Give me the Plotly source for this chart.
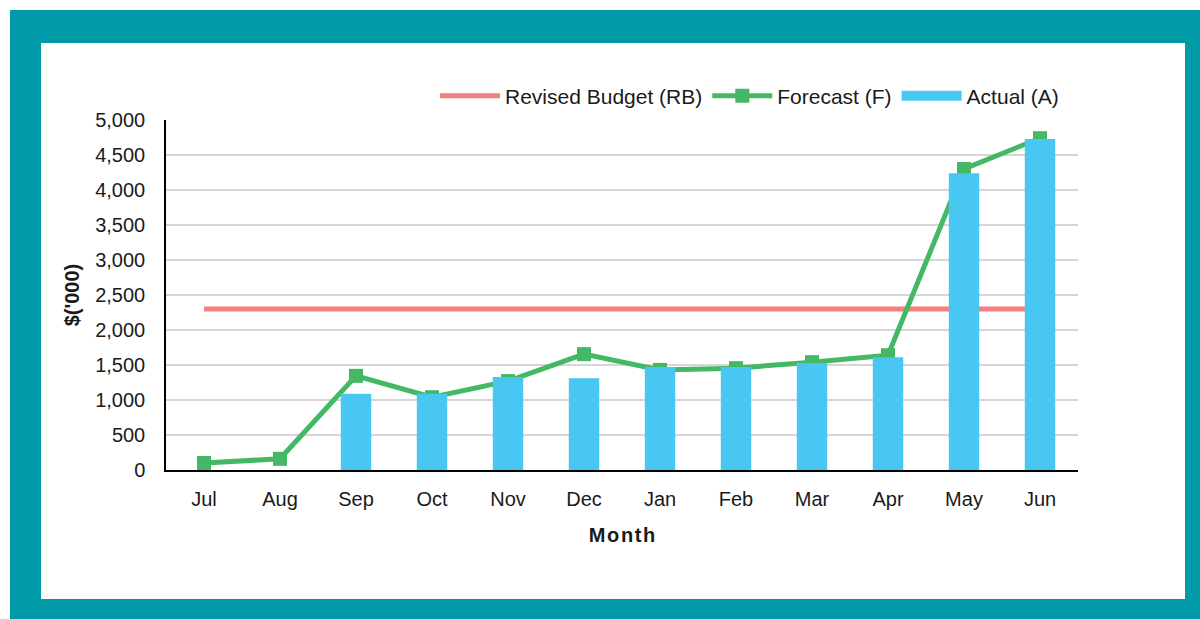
import plotly.graph_objects as go

months = ["Jul", "Aug", "Sep", "Oct", "Nov", "Dec", "Jan", "Feb", "Mar", "Apr", "May", "Jun"]
revised_budget = [2300] * 12
forecast = [100, 160, 1345, 1040, 1270, 1655, 1430, 1455, 1540, 1640, 4300, 4740]
actual = [None, None, 1090, 1090, 1330, 1310, 1470, 1470, 1530, 1610, 4240, 4730]

TEAL = "#0099A8"
RED = "#F47F7F"
GREEN = "#45B865"
BLUE = "#47C7F2"
FONT = "Liberation Sans, Arial, sans-serif"
TXT = "#1A1A1A"

fig = go.Figure()
fig.add_trace(go.Scatter(x=months, y=revised_budget, name="Revised Budget (RB)", mode="lines",
                         line=dict(color=RED, width=5), xaxis="x", yaxis="y"))
fig.add_trace(go.Scatter(x=months, y=forecast, name="Forecast (F)", mode="lines+markers",
                         line=dict(color=GREEN, width=5),
                         marker=dict(symbol="square", size=14, color=GREEN), xaxis="x", yaxis="y"))
# legend entry for the bars (wide rectangle swatch)
fig.add_trace(go.Scatter(x=[months[0]], y=[None], name="Actual (A)", mode="lines",
                         line=dict(color=BLUE, width=15), xaxis="x", yaxis="y",
                         legendgroup="actual", hoverinfo="skip"))
fig.add_trace(go.Bar(x=months, y=actual, name="Actual (A)", marker=dict(color=BLUE, line=dict(width=0)),
                     xaxis="x", yaxis="y2", legendgroup="actual", showlegend=False))

W, H = 1200, 619
L, R, T, B = 166, 1078, 120, 470
pw, ph = R - L, B - T

def px(x):
    return (x - L) / pw

def py(y):
    return (B - y) / ph

fig.update_layout(
    width=W, height=H,
    margin=dict(l=L, r=W - R, t=T, b=H - B, pad=0),
    paper_bgcolor="white",
    plot_bgcolor="rgba(0,0,0,0)",
    font=dict(family=FONT, size=20, color=TXT),
    bargap=0.6,
    showlegend=True,
    legend=dict(orientation="h", x=px(1064), xanchor="right", y=py(96), yanchor="middle",
                font=dict(size=21, color=TXT), traceorder="normal",
                bgcolor="rgba(0,0,0,0)", itemwidth=60),
    xaxis=dict(type="category", categoryorder="array", categoryarray=months, range=[-0.5, 11.5],
               showline=True, linecolor="black", linewidth=1.5, showgrid=False,
               ticks="", ticklabelstandoff=10, tickfont=dict(size=20),
               title=dict(text="<b>M o n t h</b>".replace(" ", "&#8202;"), font=dict(size=20), standoff=19)),
    yaxis=dict(range=[0, 5000], dtick=500, tickformat=",", showline=True, linecolor="black",
               linewidth=1.5, showgrid=True, gridcolor="#D6D6D6", gridwidth=1.5,
               ticks="", ticklabelstandoff=15, tickfont=dict(size=20), zeroline=False,
               title=dict(text="<b>$('000)</b>", font=dict(size=20), standoff=10)),
    yaxis2=dict(range=[0, 5000], overlaying="y", visible=False, showgrid=False),
    shapes=[
        dict(type="rect", xref="paper", yref="paper", x0=px(10), x1=px(1200), y0=py(619), y1=py(10),
             fillcolor=TEAL, line=dict(width=0), layer="below"),
        dict(type="rect", xref="paper", yref="paper", x0=px(41), x1=px(1185), y0=py(599), y1=py(43),
             fillcolor="white", line=dict(width=0), layer="below"),
    ],
)

fig.write_html("out.html")
